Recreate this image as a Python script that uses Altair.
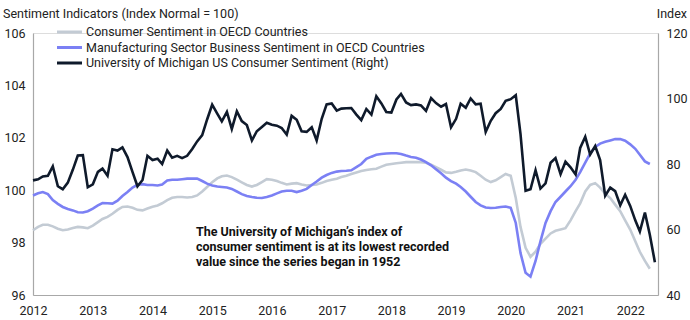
import altair as alt
import pandas as pd

# ---- data (monthly, starting Jan 2012) ----
michigan = [
    75.0, 75.3, 76.2, 76.4, 79.3, 73.2, 72.3, 74.3, 78.3, 82.6, 82.7, 72.9,
    73.8, 77.6, 78.6, 76.4, 84.5, 84.1, 85.1, 82.1, 77.5, 73.2, 75.1, 82.5,
    81.2, 81.6, 80.0, 84.1, 81.9, 82.5, 81.8, 82.5, 84.6, 86.9, 88.8, 93.6,
    98.1, 95.4, 93.0, 95.9, 90.7, 96.1, 93.1, 91.9, 87.2, 90.0, 91.3, 92.6,
    92.0, 91.7, 91.0, 89.0, 94.7, 93.5, 90.0, 89.8, 91.2, 87.2, 93.8, 98.2,
    98.5, 96.3, 96.9, 97.0, 97.1, 95.1, 93.4, 96.8, 95.1, 100.7, 98.5, 95.9,
    95.7, 99.7, 101.4, 98.8, 98.0, 98.2, 97.9, 96.2, 100.1, 98.6, 97.5, 98.3,
    91.2, 93.8, 98.4, 97.2, 100.0, 98.2, 98.4, 89.8, 93.2, 95.5, 96.8, 99.3,
    99.8, 101.0, 89.1, 71.8, 72.3, 78.1, 72.5, 74.1, 80.4, 81.8, 76.9, 80.7,
    79.0, 76.8, 84.9, 88.3, 82.9, 85.5, 81.2, 70.3, 72.8, 71.7, 67.4, 70.6,
    67.2, 62.8, 59.4, 65.2, 58.4, 50.0,
]

oecd_consumer = [
    98.47, 98.60, 98.68, 98.68, 98.62, 98.53, 98.47, 98.50, 98.56, 98.60, 98.58, 98.55,
    98.65, 98.78, 98.90, 98.98, 99.10, 99.25, 99.36, 99.38, 99.33, 99.25, 99.23, 99.30,
    99.37, 99.42, 99.50, 99.62, 99.71, 99.74, 99.74, 99.72, 99.74, 99.80, 99.95, 100.12,
    100.30, 100.45, 100.53, 100.56, 100.50, 100.40, 100.30, 100.20, 100.14, 100.20, 100.31, 100.42,
    100.40, 100.35, 100.28, 100.22, 100.25, 100.27, 100.22, 100.18, 100.20, 100.22, 100.28, 100.35,
    100.40, 100.44, 100.50, 100.55, 100.62, 100.68, 100.73, 100.77, 100.80, 100.82, 100.90, 100.97,
    101.00, 101.03, 101.05, 101.07, 101.07, 101.07, 101.07, 101.05, 100.97, 100.88, 100.78, 100.68,
    100.66, 100.70, 100.75, 100.79, 100.75, 100.69, 100.55, 100.40, 100.31, 100.38, 100.50, 100.62,
    100.55, 99.70, 98.60, 97.80, 97.46, 97.65, 97.95, 98.15, 98.35, 98.45, 98.50, 98.55,
    98.85, 99.20, 99.50, 99.95, 100.20, 100.27, 100.10, 99.87, 99.70, 99.45, 99.20, 98.85,
    98.50, 98.05, 97.65, 97.30, 97.00,
]

oecd_business = [
    99.80, 99.88, 99.93, 99.85, 99.62, 99.48, 99.36, 99.28, 99.23, 99.16, 99.15, 99.20,
    99.30, 99.42, 99.51, 99.50, 99.49, 99.60, 99.78, 99.93, 100.10, 100.21, 100.23, 100.20,
    100.20, 100.18, 100.22, 100.37, 100.40, 100.40, 100.42, 100.44, 100.44, 100.44, 100.35, 100.25,
    100.18, 100.14, 100.12, 100.10, 100.05, 99.95, 99.85, 99.78, 99.74, 99.71, 99.70, 99.74,
    99.80, 99.88, 99.95, 99.98, 99.98, 99.93, 99.98, 100.05, 100.20, 100.33, 100.48, 100.58,
    100.66, 100.71, 100.73, 100.74, 100.76, 100.88, 101.00, 101.20, 101.28, 101.35, 101.38, 101.40,
    101.41, 101.41, 101.38, 101.32, 101.27, 101.24, 101.17, 101.07, 100.95, 100.80, 100.65, 100.48,
    100.35, 100.25, 100.12, 99.95, 99.75, 99.55, 99.42, 99.34, 99.32, 99.33, 99.36, 99.38,
    99.33, 98.75, 97.60, 96.85, 96.70, 97.30, 98.05, 98.75, 99.20, 99.55, 99.75, 99.95,
    100.15, 100.40, 100.69, 101.05, 101.40, 101.65, 101.78, 101.85, 101.90, 101.95, 101.95, 101.89,
    101.75, 101.58, 101.35, 101.10, 101.00,
]

S1 = "Consumer Sentiment in OECD Countries"
S2 = "Manufacturing Sector Business Sentiment in OECD Countries"
S3 = "University of Michigan US Consumer Sentiment (Right)"
series_names = [S1, S2, S3]
series_colors = ["#c3cbd4", "#7b80f4", "#0f1a2b"]

left_ticks = [96, 98, 100, 102, 104, 106]
right_ticks = [40, 60, 80, 100, 120]

title_text = "Sentiment Indicators (Index Normal = 100)"
right_title = "Index"
note_lines = [
    "The University of Michigan\u2019s index of",
    "consumer sentiment is at its lowest recorded",
    "value since the series began in 1952",
]

FONT = "Roboto, Liberation Sans, sans-serif"
FS = 12.5
AXIS_GREY = "#a8a8a8"
TEXT = "#222222"

d_oecd = pd.date_range("2012-01-01", periods=len(oecd_consumer), freq="MS")
d_mi = pd.date_range("2012-01-01", periods=len(michigan), freq="MS")

df_c = pd.DataFrame({"date": d_oecd, "value": oecd_consumer, "series": S1})
df_b = pd.DataFrame({"date": d_oecd, "value": oecd_business, "series": S2})
df_m = pd.DataFrame({"date": d_mi, "value": michigan, "series": S3})

x_enc = alt.X(
    "date:T",
    scale=alt.Scale(domain=[alt.DateTime(year=2012, month=1, date=1),
                            alt.DateTime(year=2022, month=6, date=20)]),
    axis=alt.Axis(format="%Y", tickCount={"interval": "year", "step": 1},
                  labelAngle=0, ticks=False, grid=False, domainColor=AXIS_GREY,
                  domainWidth=1.2, labelPadding=9, labelFont=FONT, labelFontSize=FS,
                  labelColor=TEXT, title=None, labelFlush=False),
)

color_enc = alt.Color(
    "series:N",
    scale=alt.Scale(domain=series_names, range=series_colors),
    legend=None,
)

left_y = alt.Y(
    "value:Q",
    scale=alt.Scale(domain=[96, 106], nice=False, zero=False),
    axis=alt.Axis(values=left_ticks, ticks=False, grid=False, domainColor=AXIS_GREY,
                  domainWidth=1.2, labelPadding=8, labelFont=FONT, labelFontSize=FS,
                  labelColor=TEXT, title=None, orient="left"),
)

right_y = alt.Y(
    "value:Q",
    scale=alt.Scale(domain=[40, 120], nice=False, zero=False),
    axis=alt.Axis(values=right_ticks, ticks=False, grid=False, domainColor=AXIS_GREY,
                  domainWidth=1.2, labelPadding=8, labelFont=FONT, labelFontSize=FS,
                  labelColor=TEXT, title=None, orient="right"),
)

line_c = alt.Chart(df_c).mark_line(strokeWidth=2.6).encode(x=x_enc, y=left_y, color=color_enc)
line_b = alt.Chart(df_b).mark_line(strokeWidth=2.6).encode(x=x_enc, y=left_y, color=color_enc)
left_layer = alt.layer(line_c, line_b)

line_m = alt.Chart(df_m).mark_line(strokeWidth=2.6).encode(x=x_enc, y=right_y, color=color_enc)

# custom legend (top-left inside plot)
legend_layers = []
for i, (name, col) in enumerate(zip(series_names, series_colors)):
    ypos = -1 + 15.5 * i
    ldf = pd.DataFrame({"series": [name]})
    legend_layers.append(
        alt.Chart(ldf).mark_rule(strokeWidth=3, color=col).encode(
            x=alt.value(24), x2=alt.value(49), y=alt.value(ypos))
    )
    legend_layers.append(
        alt.Chart(ldf).mark_text(align="left", baseline="middle", font=FONT,
                                 fontSize=FS, color=TEXT).encode(
            x=alt.value(53), y=alt.value(ypos), text="series:N")
    )

title_mark = alt.Chart(pd.DataFrame({"t": [title_text]})).mark_text(
    align="left", baseline="middle", font=FONT, fontSize=FS, color=TEXT
).encode(x=alt.value(-30), y=alt.value(-19), text="t:N")

right_title_mark = alt.Chart(pd.DataFrame({"t": [right_title]})).mark_text(
    align="right", baseline="middle", font=FONT, fontSize=FS, color=TEXT
).encode(x=alt.value(654), y=alt.value(-19), text="t:N")

note_mark = alt.Chart(pd.DataFrame({"t": [0]})).mark_text(
    align="left", baseline="middle", font=FONT, fontSize=FS, fontWeight="bold",
    color="#111111", lineHeight=15
).encode(x=alt.value(163), y=alt.value(199), text=alt.value(note_lines))

chart = (
    alt.layer(left_layer, line_m, *legend_layers, title_mark, right_title_mark, note_mark)
    .resolve_scale(y="independent")
    .properties(width=625, height=262,
                padding={"left": 33, "top": 33, "right": 32, "bottom": 25},
                autosize=alt.AutoSizeParams(type="none"))
    .configure_view(stroke=None)
    .configure(background="white")
)

chart.save("out.html", embed_options={"renderer": "svg", "actions": False})
